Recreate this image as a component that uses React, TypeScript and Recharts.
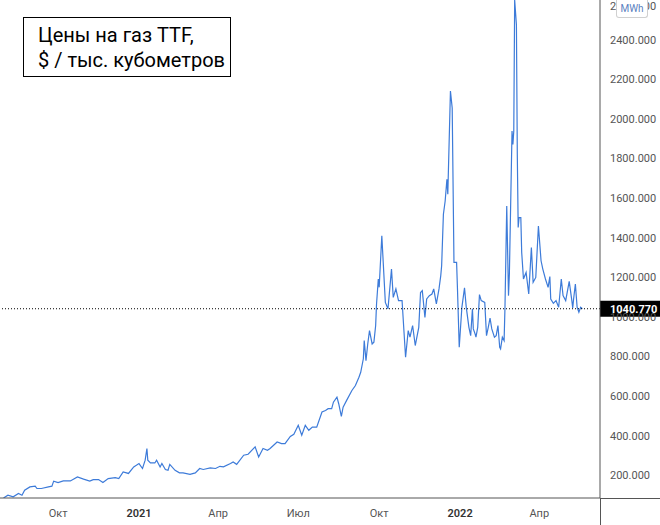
import { LineChart, Line, XAxis, YAxis, ReferenceLine } from 'recharts';

// days since 2020-08-01
const days = [
  -1, 4, 10, 16, 20, 23, 29, 35, 37, 42, 50, 54, 56, 61, 67, 75, 83, 90, 97, 101,
  107, 112, 118, 126, 130, 135, 141, 147, 150, 153, 157, 160, 162, 163, 166, 171, 173, 177, 179, 183,
  186, 188, 194, 199, 203, 211, 217, 222, 226, 234, 240, 245, 249, 257, 260, 264, 272, 277, 285, 289,
  294, 299, 302, 310, 315, 319, 325, 329, 334, 338, 342, 346, 350, 355, 361, 365, 368, 372, 374, 378,
  380, 383, 385, 389, 395, 399, 403, 405, 408, 409, 411, 413, 415, 418, 420, 422, 423, 425, 426, 429,
  433, 436, 440, 442, 445, 448, 452, 456, 459, 461, 464, 467, 471, 473, 475, 478, 480, 483, 486, 488,
  491, 494, 496, 497, 499, 501, 503, 504, 507, 509, 511, 514, 515, 517, 520, 523, 525, 528, 530, 532,
  533, 535, 536, 538, 540, 542, 546, 548, 550, 552, 554, 557, 559, 561, 563, 564, 566, 568, 569, 571,
  573, 574, 577, 578, 579, 580, 582, 583, 584, 585, 587, 588, 590, 593, 596, 599, 601, 604, 607, 610,
  612, 615, 618, 620, 621, 624, 627, 630, 633, 635, 638, 642, 645, 646, 647, 649, 651, 653, 655, 657,
];

// TTF, $ per thousand m3
const prices = [
  85, 99, 91, 108, 99, 124, 141, 145, 133, 133, 141, 145, 170, 163, 171, 171, 191, 180, 170, 178,
  178, 163, 183, 188, 183, 217, 209, 242, 250, 259, 234, 276, 335, 276, 262, 262, 276, 242, 259, 229,
  225, 255, 225, 212, 212, 204, 212, 234, 229, 237, 234, 245, 242, 259, 267, 255, 301, 306, 343, 292,
  335, 326, 335, 368, 360, 360, 396, 407, 452, 402, 452, 427, 443, 443, 519, 527, 536, 536, 569, 594,
  561, 497, 544, 578, 628, 653, 695, 720, 788, 880, 779, 863, 930, 863, 872, 956, 1065, 1191, 1149, 1409,
  1073, 1040, 1241, 1098, 1141, 1082, 1082, 796, 930, 897, 956, 855, 947, 1123, 1132, 997, 1090, 1107, 1115, 1141,
  1065, 1141, 1208, 1258, 1518, 1585, 1695, 1619, 2140, 2055, 1275, 1275, 1141, 846, 1048, 1146, 1048, 947, 905, 1040,
  939, 914, 897, 947, 1112, 1082, 1073, 905, 947, 994, 939, 897, 905, 956, 846, 838, 897, 880, 1048, 1560,
  1107, 1218, 1938, 1871, 1938, 2600, 2475, 1821, 1451, 1501, 1501, 1325, 1191, 1224, 1115, 1350, 1174, 1199, 1459, 1283,
  1241, 1191, 1149, 1203, 1090, 1068, 1082, 1048, 1191, 1107, 1082, 1179, 1082, 1045, 1090, 1166, 1048, 1023, 1048, 1040.77,
];

const tickDays = [61, 153, 243, 334, 426, 518, 608];
const tickLabels = ['Окт', '2021', 'Апр', 'Июл', 'Окт', '2022', 'Апр'];
const priceTicks = [200, 400, 600, 800, 1000, 1200, 1400, 1600, 1800, 2000, 2200, 2400, 2600];

const data = days.map((d, i) => ({ day: d, price: prices[i] }));
const lastPrice = prices[prices.length - 1];

const AXIS = '#555';
const FONT = 'Roboto, "Noto Sans", sans-serif';

const XTick = ({ x, y, payload }: any) => {
  const label = tickLabels[tickDays.indexOf(payload.value)] ?? '';
  const isYear = /^\d{4}$/.test(label);
  return (
    <text
      x={x}
      y={y}
      dy={4}
      textAnchor="middle"
      fontSize={11}
      fontFamily={FONT}
      fontWeight={isYear ? 600 : 400}
      fill={isYear ? '#333' : '#555'}
    >
      {label}
    </text>
  );
};

const PriceTag = ({ viewBox }: any) => {
  const { x, y, width } = viewBox;
  return (
    <g>
      <rect x={x + width} y={y - 8} width={60} height={16} fill="#000" />
      <text x={x + width + 10} y={y} dy={4} fontSize={11} fontFamily={FONT} fontWeight="bold" fill="#fff">
        {lastPrice.toFixed(3)}
      </text>
    </g>
  );
};

export default function App() {
  return (
    <div style={{ position: 'absolute', left: 0, top: 0, width: 660, height: 525, background: '#fff', fontFamily: FONT }}>
      <LineChart width={660} height={525} data={data} margin={{ top: 0, right: 0, bottom: 0, left: 0 }}>
        <XAxis
          dataKey="day"
          type="number"
          domain={[-5, 677]}
          allowDataOverflow
          ticks={tickDays}
          tick={<XTick />}
          tickLine={false}
          tickSize={0}
          tickMargin={15}
          height={27}
          axisLine={{ stroke: AXIS }}
        />
        <YAxis
          orientation="right"
          type="number"
          domain={[85, 2600]}
          allowDataOverflow
          ticks={priceTicks}
          tickFormatter={(v) => v.toFixed(3)}
          tick={{ fontSize: 11, fill: '#555', fontFamily: FONT }}
          tickLine={false}
          tickSize={0}
          tickMargin={10}
          width={60}
          axisLine={{ stroke: AXIS }}
        />
        <Line
          type="linear"
          dataKey="price"
          stroke="#3d7bd9"
          strokeWidth={1.2}
          dot={false}
          activeDot={false}
          isAnimationActive={false}
        />
        <ReferenceLine
          y={lastPrice}
          stroke="#000"
          strokeDasharray="1 2"
          label={<PriceTag />}
        />
      </LineChart>

      {/* axis lines run on through the corner */}
      <div style={{ position: 'absolute', left: 600, top: 498, width: 1, height: 27, background: AXIS }} />
      <div style={{ position: 'absolute', left: 600, top: 498, width: 60, height: 1, background: AXIS }} />

      <div
        style={{
          position: 'absolute',
          left: 616,
          top: 0,
          width: 32,
          height: 18,
          boxSizing: 'border-box',
          border: '1px solid #d0d0d0',
          borderTop: 'none',
          borderRadius: '0 0 3px 3px',
          background: '#fff',
          color: '#5b7fc0',
          fontSize: 10,
          lineHeight: '17px',
          textAlign: 'center',
        }}
      >
        MWh
      </div>

      <div
        style={{
          position: 'absolute',
          left: 23,
          top: 17,
          width: 208,
          height: 60,
          boxSizing: 'border-box',
          border: '1px solid #000',
          background: '#fff',
          padding: '5px 8px 3px 14px',
          fontSize: 20,
          lineHeight: '25px',
          color: '#000',
          whiteSpace: 'nowrap',
        }}
      >
        Цены на газ TTF,
        <br />$ / тыс. кубометров
      </div>
    </div>
  );
}
